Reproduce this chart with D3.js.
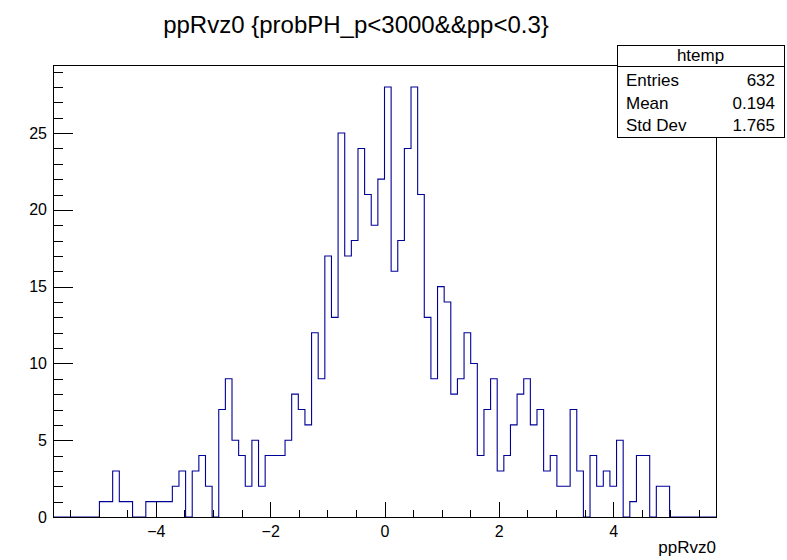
<!DOCTYPE html>
<html><head><meta charset="utf-8">
<script src="https://cdn.jsdelivr.net/npm/d3@7"></script>
<style>
body{margin:0;background:#fff}
svg{display:block}
text{font-family:"Liberation Sans",Arial,Helvetica,sans-serif;fill:#000}
</style>
</head><body>
<svg id="c" width="787" height="560"></svg>
<script>
// ---- data ----
const titleText = "ppRvz0 {probPH_p<3000&&pp<0.3}";
const xAxisTitle = "ppRvz0";
const xRange = [-5.8, 5.8];
const yMax = 29.4;
// 100 bins covering xRange
const binCounts = [
  0,0,0,0,0,0,0,1,1,3,
  1,1,0,0,1,1,1,1,2,3,
  0,3,4,2,0,7,9,5,4,2,
  5,2,4,4,4,5,8,7,6,12,
  9,17,13,25,17,18,24,21,19,22,
  28,16,18,24,28,21,13,9,15,14,
  8,9,12,10,4,7,9,3,4,6,
  8,9,6,7,3,4,2,2,7,3,
  0,4,2,3,2,5,0,1,4,4,
  0,2,2,0,0,0,0,0,0,0
];
const xMajorTicks = [-4,-2,0,2,4];
const yMajorTicks = [0,5,10,15,20,25];
const statsName = "htemp";
const statsLabels = ["Entries","Mean","Std Dev"];
const statsValues = ["632","0.194","1.765"];

// ---- layout ----
const fL = 53, fR = 716, fT = 65.5, fB = 517;
const svg = d3.select("#c");

const x = d3.scaleLinear().domain(xRange).range([fL, fR]);
const y = d3.scaleLinear().domain([0, yMax]).range([fB, fT]);

const nBins = binCounts.length;
const bw = (xRange[1]-xRange[0]) / nBins;

// histogram outline
const pts = [[xRange[0], 0]];
binCounts.forEach((c, i) => {
  const a = xRange[0] + i*bw, b = xRange[0] + (i+1)*bw;
  pts.push([a, c]); pts.push([b, c]);
});
pts.push([xRange[1], 0]);
svg.append("path")
  .attr("d", d3.line().x(d => x(d[0])).y(d => y(d[1]))(pts))
  .attr("fill", "none")
  .attr("stroke", "#000099")
  .attr("stroke-width", 1.1);

// frame
svg.append("rect")
  .attr("x", fL).attr("y", fT).attr("width", fR-fL).attr("height", fB-fT)
  .attr("fill", "none").attr("stroke", "#000").attr("stroke-width", 1)
  .attr("shape-rendering", "crispEdges");

// x axis
const xMinor = d3.range(-5.5, 5.51, 0.5).filter(v => !xMajorTicks.includes(v));
const gx = svg.append("g").attr("transform", `translate(0,${fB})`);
gx.call(d3.axisBottom(x).tickValues(xMajorTicks).tickSizeInner(-15).tickSizeOuter(0).tickPadding(9));
gx.append("g").call(d3.axisBottom(x).tickValues(xMinor).tickSizeInner(-7.5).tickSizeOuter(0).tickFormat(""));
gx.selectAll("path.domain").attr("stroke", "#000");
gx.selectAll("line").attr("stroke", "#000").attr("shape-rendering", "crispEdges");
gx.selectAll("text").attr("font-size", 16).attr("font-family", '"Liberation Sans",Arial,sans-serif');

// y axis
const yMinor = d3.range(1, 30, 1).filter(v => !yMajorTicks.includes(v));
const gy = svg.append("g").attr("transform", `translate(${fL},0)`);
gy.call(d3.axisLeft(y).tickValues(yMajorTicks).tickSizeInner(-20).tickSizeOuter(0).tickPadding(6));
gy.append("g").call(d3.axisLeft(y).tickValues(yMinor).tickSizeInner(-10).tickSizeOuter(0).tickFormat(""));
gy.selectAll("path.domain").attr("stroke", "#000");
gy.selectAll("line").attr("stroke", "#000").attr("shape-rendering", "crispEdges");
gy.selectAll("text").attr("font-size", 16).attr("font-family", '"Liberation Sans",Arial,sans-serif');

// axis title
svg.append("text").attr("x", fR).attr("y", 553).attr("text-anchor", "end")
  .attr("font-size", 17).text(xAxisTitle);

// title
svg.append("text").attr("x", 356).attr("y", 33).attr("text-anchor", "middle")
  .attr("font-size", 24).text(titleText);

// stats box
const sx0 = 617, sx1 = 784, sy0 = 45, sy1 = 137, sHead = 66;
svg.append("rect").attr("x", sx0).attr("y", sy0).attr("width", sx1-sx0).attr("height", sy1-sy0)
  .attr("fill", "#fff").attr("stroke", "#000").attr("shape-rendering", "crispEdges");
svg.append("line").attr("x1", sx0).attr("x2", sx1).attr("y1", sHead).attr("y2", sHead)
  .attr("stroke", "#000").attr("shape-rendering", "crispEdges");
svg.append("text").attr("x", (sx0+sx1)/2).attr("y", 61).attr("text-anchor", "middle")
  .attr("font-size", 17).text(statsName);
const rowY = [86, 108.5, 131];
statsLabels.forEach((l, i) => {
  svg.append("text").attr("x", 626).attr("y", rowY[i]).attr("font-size", 17).text(l);
  svg.append("text").attr("x", 775).attr("y", rowY[i]).attr("text-anchor", "end").attr("font-size", 17).text(statsValues[i]);
});
</script>
</body></html>
